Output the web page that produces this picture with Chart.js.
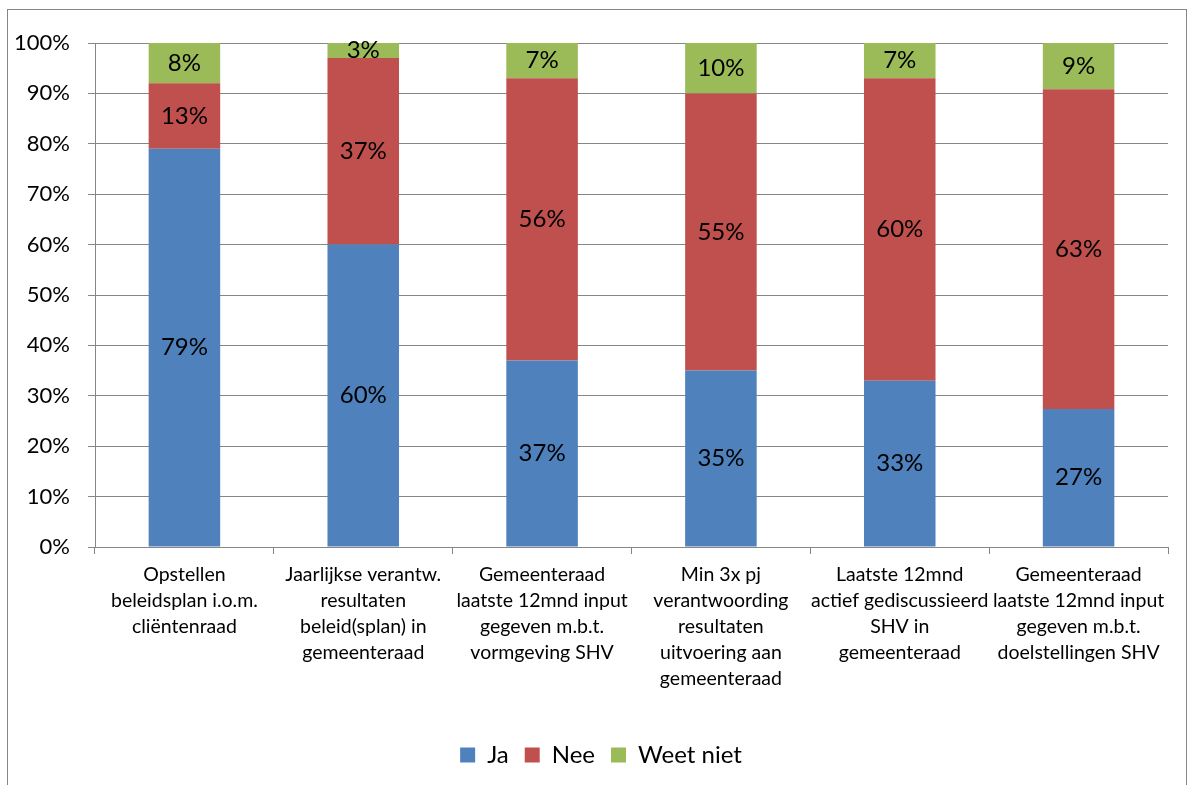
<!DOCTYPE html>
<html>
<head>
<meta charset="utf-8">
<script src="https://cdn.jsdelivr.net/npm/chart.js@4.4.0/dist/chart.umd.min.js"></script>
<style>
html,body{margin:0;padding:0;background:#fff;}
#wrap{position:absolute;left:0;top:0;width:1188px;height:785px;}
</style>
</head>
<body>
<div id="wrap"><canvas id="c" width="1188" height="785"></canvas></div>
<script>
const categories = [
  ["Opstellen","beleidsplan i.o.m.","cliëntenraad"],
  ["Jaarlijkse verantw.","resultaten","beleid(splan) in","gemeenteraad"],
  ["Gemeenteraad","laatste 12mnd input","gegeven m.b.t.","vormgeving SHV"],
  ["Min 3x pj","verantwoording","resultaten","uitvoering aan","gemeenteraad"],
  ["Laatste 12mnd","actief gediscussieerd","SHV in","gemeenteraad"],
  ["Gemeenteraad","laatste 12mnd input","gegeven m.b.t.","doelstellingen SHV"]
];
const ja = [79, 60, 37, 35, 33, 27.4];
const nee = [13, 37, 56, 55, 60, 63.4];
const weetNiet = [8, 3, 7, 10, 7, 9.2];
const seriesNames = ["Ja", "Nee", "Weet niet"];
const colors = ["#4F81BD", "#C0504D", "#9BBB59"];
const yTicks = [0,10,20,30,40,50,60,70,80,90,100];

const FONT = "Lato, 'Open Sans', sans-serif";

const frame = {
  id: 'frame',
  beforeDraw(chart) {
    const ctx = chart.ctx;
    ctx.save();
    ctx.fillStyle = '#fff';
    ctx.fillRect(0,0,chart.width,chart.height);
    ctx.strokeStyle = '#868686';
    ctx.lineWidth = 1;
    ctx.strokeRect(7.5, 9.5, 1179, 820);
    ctx.restore();
  }
};

const legendShift = {
  id: 'legendShift',
  afterLayout(chart) {
    if (chart.legend) {
      chart.legend.left += 17;
      chart.legend.right += 17;
    }
  }
};

const dataLabels = {
  id: 'dataLabels',
  afterDatasetsDraw(chart) {
    const ctx = chart.ctx;
    ctx.save();
    ctx.font = "24px " + FONT;
    ctx.fillStyle = '#000';
    ctx.textAlign = 'center';
    ctx.textBaseline = 'middle';
    chart.data.datasets.forEach((ds, di) => {
      const meta = chart.getDatasetMeta(di);
      meta.data.forEach((bar, i) => {
        const v = ds.data[i];
        const p = bar.getProps(['x','y','base'], true);
        ctx.fillText(Math.round(v) + '%', p.x, (p.y + p.base) / 2);
      });
    });
    ctx.restore();
  }
};

new Chart(document.getElementById('c'), {
  type: 'bar',
  data: {
    labels: categories,
    datasets: [
      { label: seriesNames[0], data: ja, backgroundColor: colors[0] },
      { label: seriesNames[1], data: nee, backgroundColor: colors[1] },
      { label: seriesNames[2], data: weetNiet, backgroundColor: colors[2] }
    ]
  },
  options: {
    responsive: false,
    animation: false,
    devicePixelRatio: 1,
    layout: { padding: { top: 43, right: 20, bottom: 8, left: 0 } },
    datasets: { bar: { categoryPercentage: 1.0, barPercentage: 0.4 } },
    scales: {
      x: {
        stacked: true,
        grid: { display: true, drawOnChartArea: false, drawTicks: true, tickLength: 7, color: '#868686', offset: true },
        border: { display: true, color: '#868686' },
        ticks: { color: '#000', font: { family: FONT, size: 19.5, lineHeight: 1.33 }, padding: 8, maxRotation: 0, autoSkip: false },
        afterFit(scale) { scale.height = 180; }
      },
      y: {
        stacked: true,
        min: 0, max: 100,
        afterBuildTicks(scale) { scale.ticks = yTicks.map(v => ({ value: v })); },
        grid: { color: '#868686', tickLength: 7 },
        border: { display: true, color: '#868686' },
        ticks: { color: '#000', font: { family: FONT, size: 22 }, padding: 18, callback: v => v + '%' },
        afterFit(scale) { scale.width = 95; }
      }
    },
    plugins: {
      legend: {
        position: 'bottom',
        labels: { color: '#000', font: { family: FONT, size: 24 }, boxWidth: 15, boxHeight: 15, padding: 16 }
      },
      tooltip: { enabled: false }
    }
  },
  plugins: [frame, legendShift, dataLabels]
});
</script>
</body>
</html>
